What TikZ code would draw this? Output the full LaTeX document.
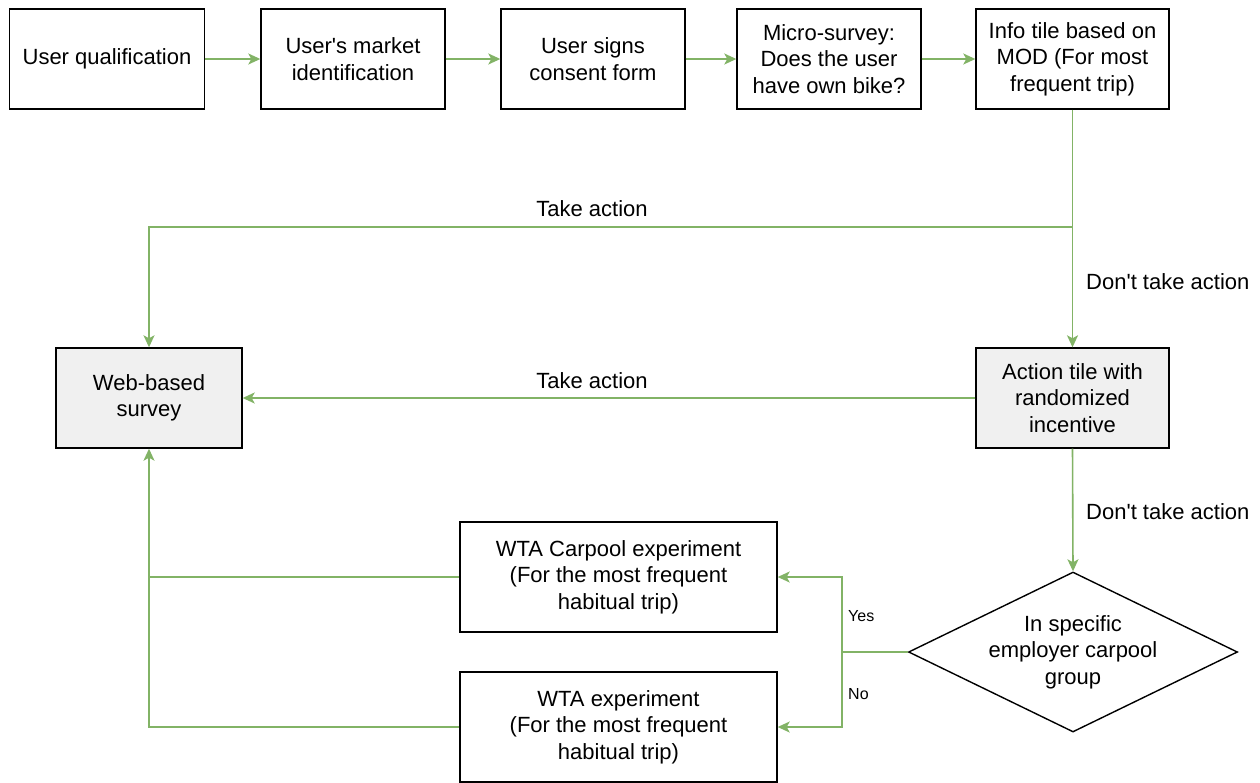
\documentclass[tikz,border=0pt]{standalone}
\usepackage{fontspec}
\setmainfont{Liberation Sans}
\usetikzlibrary{arrows.meta,shapes.geometric,calc}
\definecolor{flowgreen}{HTML}{82B366}
\definecolor{tilegray}{HTML}{F0F0F0}
\tikzset{
  box/.style={draw=black, line width=1.4pt, fill=white, inner sep=0pt, align=center,
    minimum height=100pt, font=\fontsize{22}{26.5}\selectfont},
  graybox/.style={box, fill=tilegray},
  flow/.style={draw=flowgreen, line width=1.6pt, -{Stealth[length=12pt,width=11pt,inset=3pt]}},
  plainflow/.style={draw=flowgreen, line width=1.6pt},
  lbl/.style={font=\fontsize{22}{26.5}\selectfont, inner sep=0pt},
  smalllbl/.style={font=\fontsize{16}{19}\selectfont, inner sep=0pt},
}
\begin{document}
\begin{tikzpicture}[x=1pt,y=-1pt]
\useasboundingbox (0,0) rectangle (1260,782);

% top row of steps
\node[box, minimum width=195pt] (qual) at (107,59) {User qualification};
\node[box, minimum width=184pt] (market) at (353,59) {User\textquotesingle s market\\identification};
\node[box, minimum width=184pt] (consent) at (593,59) {User signs\\consent form};
\node[box, minimum width=184pt] (micro) at (829,59) {Micro-survey:\\Does the user\\have own bike?};
\node[box, minimum width=193pt] (info) at (1072.5,59) {Info tile based on\\MOD (For most\\frequent trip)};

% survey and incentive tiles
\node[graybox, minimum width=186pt] (web) at (149,398) {Web-based\\survey};
\node[graybox, minimum width=193pt] (action) at (1072.5,398) {Action tile with\\randomized\\incentive};

% decision and experiments
\node[draw=black, line width=1.4pt, diamond, aspect=2.05, inner sep=0pt,
  minimum width=329pt, minimum height=160pt, align=center,
  font=\fontsize{22}{26.5}\selectfont] (group) at (1073,652) {In specific\\employer carpool\\group};
\node[box, minimum width=317pt, minimum height=110pt] (wtac) at (618.5,577) {WTA Carpool experiment\\(For the most frequent\\habitual trip)};
\node[box, minimum width=317pt, minimum height=110pt] (wta) at (618.5,727) {WTA experiment\\(For the most frequent\\habitual trip)};

% junction points
\coordinate (split) at (info.south |- 0,227);
\coordinate (fork) at (842,652);

% top row connectors
\draw[flow] (qual) -- (market);
\draw[flow] (market) -- (consent);
\draw[flow] (consent) -- (micro);
\draw[flow] (micro) -- (info);

% info tile outcomes
\draw[plainflow] (info.south) -- (split);
\draw[flow] (split) -- (split -| web.north) -- (web.north);
\draw[flow] (split) -- (action.north);
\node[lbl] (take1) at (592,209) {Take action};
\node[lbl, anchor=west] (notake1) at (1086,282) {Don\textquotesingle t take action};

% action tile outcomes
\draw[flow] (action.west) -- (action.west -| web.east);
\node[lbl] (take2) at (592,381) {Take action};
\draw[flow] (action.south) -- (group.north);
\node[lbl, anchor=west] (notake2) at (1086,512) {Don\textquotesingle t take action};

% decision branches
\draw[plainflow] (group.west) -- (fork);
\draw[flow] (fork) |- (wtac.east);
\draw[flow] (fork) |- (wta.east);
\node[smalllbl, anchor=west] (yes) at (848,616) {Yes};
\node[smalllbl, anchor=west] (no) at (848,694) {No};

% experiments back to the survey
\draw[plainflow] (wtac.west) -- (wtac.west -| web.south);
\draw[flow] (wta.west) -| (web.south);
\end{tikzpicture}
\end{document}
